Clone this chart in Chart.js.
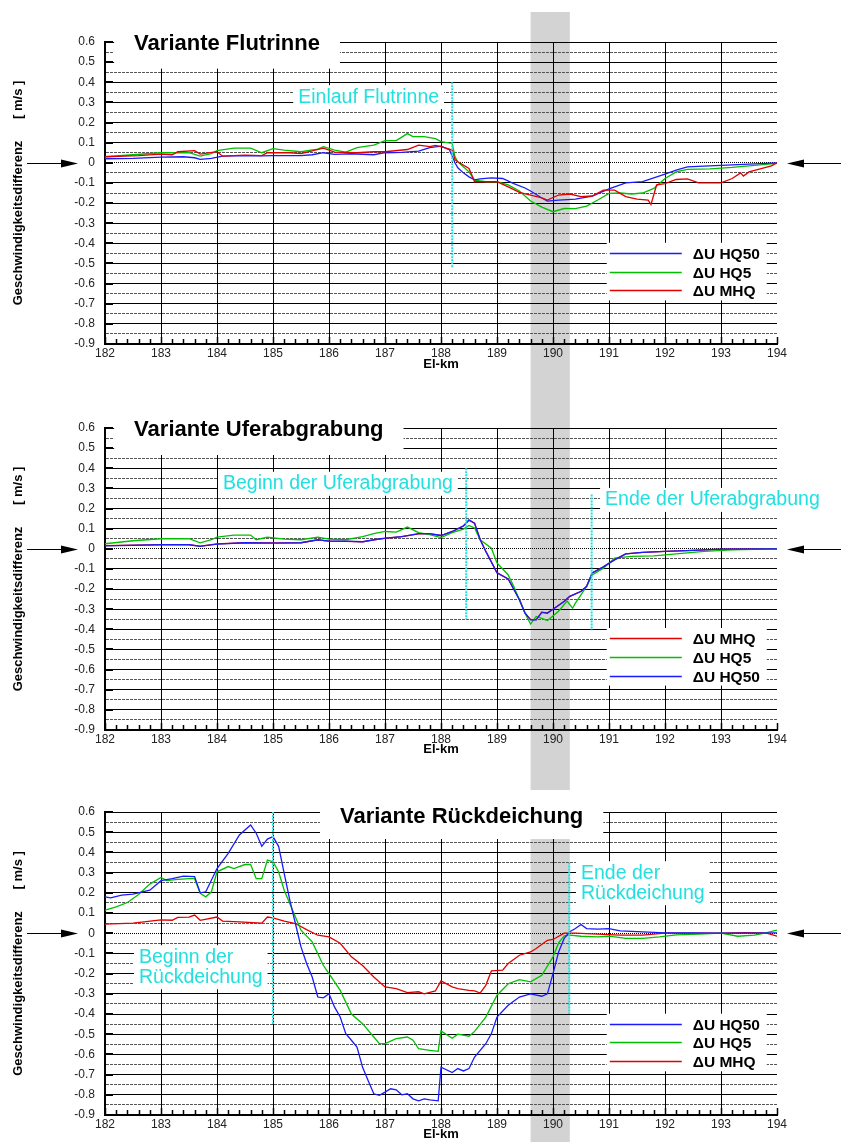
<!DOCTYPE html>
<html>
<head>
<meta charset="utf-8">
<title>Geschwindigkeitsdifferenz Varianten</title>
<script src="https://cdn.jsdelivr.net/npm/chart.js@4/dist/chart.umd.min.js"></script>
<style>
  html, body { margin: 0; padding: 0; background: #fff; }
  #page { position: relative; width: 841px; height: 1142px; overflow: hidden; }
  #page canvas { position: absolute; left: 0; }
</style>
</head>
<body>
<div id="page">
  <canvas id="chart-flut" width="841" height="380" style="top:0"></canvas>
  <canvas id="chart-ufer" width="841" height="380" style="top:380px"></canvas>
  <canvas id="chart-rueck" width="841" height="382" style="top:760px"></canvas>
</div>
<script>
// Data: [El-km, dU in m/s]

// Variante Flutrinne
const flutHQ50 = [[182.0,0.02],[182.5,0.022],[183.0,0.028],[183.4,0.03],[183.6,0.025],[183.7,0.017],[183.9,0.022],[184.1,0.033],[184.5,0.036],[184.8,0.034],[185.0,0.036],[185.5,0.036],[185.7,0.04],[185.9,0.05],[186.1,0.042],[186.4,0.045],[186.8,0.04],[187.0,0.05],[187.3,0.052],[187.6,0.058],[187.8,0.075],[188.0,0.083],[188.15,0.065],[188.25,0.0],[188.3,-0.025],[188.4,-0.05],[188.5,-0.07],[188.6,-0.085],[188.7,-0.08],[188.9,-0.075],[189.1,-0.078],[189.3,-0.103],[189.5,-0.125],[189.6,-0.14],[189.8,-0.175],[189.9,-0.19],[190.1,-0.185],[190.4,-0.18],[190.7,-0.165],[191.0,-0.13],[191.3,-0.1],[191.6,-0.093],[191.8,-0.075],[192.0,-0.056],[192.2,-0.036],[192.4,-0.02],[192.8,-0.015],[193.2,-0.01],[193.6,-0.005],[194.0,0.0]];
const flutHQ5 = [[182.0,0.03],[182.5,0.04],[183.0,0.05],[183.5,0.05],[183.7,0.033],[183.9,0.046],[184.0,0.06],[184.3,0.073],[184.6,0.073],[184.8,0.05],[185.0,0.07],[185.2,0.063],[185.5,0.055],[185.8,0.068],[185.9,0.08],[186.1,0.063],[186.3,0.053],[186.5,0.075],[186.8,0.088],[187.0,0.11],[187.2,0.11],[187.4,0.145],[187.5,0.13],[187.7,0.13],[187.9,0.12],[188.0,0.105],[188.2,0.096],[188.25,0.03],[188.3,0.005],[188.5,-0.045],[188.6,-0.086],[188.8,-0.094],[189.0,-0.094],[189.2,-0.11],[189.4,-0.14],[189.6,-0.19],[189.8,-0.22],[190.0,-0.243],[190.2,-0.227],[190.4,-0.228],[190.6,-0.215],[190.8,-0.185],[191.0,-0.152],[191.2,-0.15],[191.4,-0.155],[191.6,-0.15],[191.8,-0.127],[192.0,-0.078],[192.2,-0.045],[192.4,-0.033],[192.8,-0.03],[193.2,-0.023],[193.6,-0.013],[194.0,-0.003]];
const flutMHQ = [[182.0,0.03],[182.6,0.036],[183.0,0.043],[183.2,0.04],[183.3,0.055],[183.6,0.06],[183.7,0.043],[184.0,0.055],[184.1,0.033],[184.5,0.038],[184.8,0.036],[184.9,0.05],[185.3,0.05],[185.5,0.046],[185.9,0.073],[186.1,0.053],[186.5,0.05],[186.8,0.055],[187.0,0.055],[187.4,0.066],[187.6,0.088],[187.8,0.08],[187.9,0.086],[188.0,0.08],[188.2,0.063],[188.25,0.015],[188.3,0.005],[188.5,-0.028],[188.6,-0.094],[189.0,-0.094],[189.2,-0.12],[189.4,-0.147],[189.6,-0.16],[189.8,-0.174],[189.9,-0.185],[190.1,-0.16],[190.3,-0.155],[190.5,-0.168],[190.7,-0.165],[190.9,-0.136],[191.1,-0.136],[191.3,-0.168],[191.5,-0.18],[191.7,-0.185],[191.75,-0.207],[191.85,-0.11],[192.0,-0.103],[192.2,-0.083],[192.4,-0.08],[192.6,-0.1],[193.0,-0.1],[193.2,-0.078],[193.35,-0.05],[193.4,-0.066],[193.5,-0.045],[193.7,-0.03],[193.9,-0.015],[194.0,0.0]];

// Variante Uferabgrabung
const uferHQ50 = [[182.0,0.015],[183.0,0.02],[183.5,0.02],[183.7,0.012],[184.0,0.023],[184.5,0.03],[185.0,0.028],[185.5,0.03],[185.8,0.045],[186.0,0.038],[186.3,0.038],[186.6,0.035],[186.8,0.045],[187.0,0.053],[187.3,0.06],[187.6,0.075],[187.8,0.075],[188.0,0.066],[188.2,0.086],[188.4,0.114],[188.5,0.144],[188.6,0.127],[188.7,0.045],[188.8,-0.013],[189.0,-0.12],[189.2,-0.15],[189.4,-0.253],[189.5,-0.32],[189.6,-0.353],[189.7,-0.353],[189.8,-0.316],[189.9,-0.32],[190.0,-0.3],[190.2,-0.262],[190.3,-0.236],[190.5,-0.212],[190.6,-0.187],[190.7,-0.12],[190.9,-0.09],[191.1,-0.055],[191.3,-0.025],[191.6,-0.018],[192.0,-0.013],[192.5,-0.008],[193.0,-0.002],[194.0,0.0]];
const uferHQ5 = [[182.0,0.025],[182.5,0.04],[183.0,0.05],[183.5,0.05],[183.7,0.03],[183.9,0.045],[184.0,0.058],[184.3,0.068],[184.6,0.068],[184.7,0.045],[184.9,0.058],[185.2,0.048],[185.5,0.045],[185.8,0.058],[186.0,0.048],[186.3,0.045],[186.6,0.061],[186.8,0.075],[187.0,0.086],[187.2,0.083],[187.4,0.108],[187.6,0.08],[187.8,0.07],[188.0,0.056],[188.2,0.08],[188.4,0.098],[188.5,0.116],[188.6,0.103],[188.7,0.045],[188.9,0.003],[189.0,-0.07],[189.2,-0.13],[189.3,-0.187],[189.5,-0.32],[189.6,-0.374],[189.7,-0.336],[189.9,-0.356],[190.1,-0.31],[190.25,-0.26],[190.35,-0.295],[190.4,-0.27],[190.6,-0.187],[190.7,-0.13],[190.9,-0.096],[191.1,-0.046],[191.4,-0.038],[191.8,-0.035],[192.2,-0.025],[192.7,-0.013],[193.2,-0.005],[194.0,0.0]];
const uferMHQ = [[182.0,0.016],[183.0,0.021],[183.5,0.021],[183.7,0.013],[184.0,0.024],[184.5,0.03],[185.0,0.029],[185.5,0.03],[185.8,0.044],[186.0,0.038],[186.3,0.037],[186.6,0.034],[186.8,0.044],[187.0,0.052],[187.3,0.06],[187.6,0.074],[187.8,0.074],[188.0,0.066],[188.2,0.085],[188.4,0.113],[188.5,0.142],[188.6,0.126],[188.7,0.046],[188.8,-0.012],[189.0,-0.118],[189.2,-0.15],[189.4,-0.252],[189.5,-0.318],[189.6,-0.352],[189.7,-0.352],[189.8,-0.315],[189.9,-0.318],[190.0,-0.3],[190.2,-0.261],[190.3,-0.236],[190.5,-0.211],[190.6,-0.186],[190.7,-0.12],[190.9,-0.089],[191.1,-0.054],[191.3,-0.025],[191.6,-0.018],[192.0,-0.013],[192.5,-0.008],[193.0,-0.002],[194.0,0.0]];

// Variante Rückdeichung
const rueckHQ50 = [[182.0,0.18],[182.1,0.175],[182.3,0.188],[182.5,0.193],[182.8,0.213],[183.0,0.26],[183.2,0.27],[183.4,0.283],[183.6,0.28],[183.7,0.2],[183.8,0.205],[184.0,0.32],[184.2,0.395],[184.4,0.486],[184.6,0.536],[184.7,0.495],[184.8,0.43],[184.9,0.466],[185.0,0.478],[185.1,0.43],[185.2,0.296],[185.3,0.164],[185.4,0.048],[185.5,-0.068],[185.6,-0.15],[185.7,-0.217],[185.8,-0.316],[185.9,-0.32],[186.0,-0.3],[186.1,-0.366],[186.2,-0.415],[186.3,-0.497],[186.4,-0.53],[186.5,-0.564],[186.6,-0.664],[186.7,-0.73],[186.8,-0.795],[186.9,-0.803],[187.0,-0.787],[187.1,-0.77],[187.2,-0.775],[187.3,-0.8],[187.4,-0.795],[187.5,-0.82],[187.6,-0.83],[187.7,-0.82],[187.8,-0.825],[187.95,-0.83],[188.0,-0.663],[188.2,-0.69],[188.3,-0.67],[188.4,-0.682],[188.5,-0.67],[188.6,-0.613],[188.8,-0.547],[188.9,-0.497],[189.0,-0.415],[189.2,-0.357],[189.4,-0.316],[189.6,-0.3],[189.8,-0.312],[189.9,-0.3],[190.0,-0.2],[190.1,-0.093],[190.2,-0.026],[190.3,0.007],[190.4,0.023],[190.5,0.043],[190.6,0.023],[190.8,0.02],[191.0,0.023],[191.2,0.012],[191.5,0.008],[192.0,0.002],[192.5,0.002],[193.0,0.0],[193.5,0.0],[194.0,0.002]];
const rueckHQ5 = [[182.0,0.114],[182.2,0.13],[182.4,0.152],[182.6,0.192],[182.8,0.243],[183.0,0.276],[183.1,0.26],[183.3,0.266],[183.5,0.27],[183.6,0.27],[183.7,0.197],[183.8,0.18],[183.9,0.205],[184.0,0.304],[184.2,0.33],[184.3,0.32],[184.5,0.34],[184.6,0.34],[184.7,0.27],[184.8,0.27],[184.9,0.362],[185.0,0.354],[185.1,0.304],[185.2,0.213],[185.35,0.114],[185.5,0.015],[185.7,-0.043],[185.9,-0.16],[186.0,-0.2],[186.2,-0.283],[186.4,-0.4],[186.6,-0.448],[186.8,-0.514],[186.9,-0.547],[187.0,-0.547],[187.2,-0.522],[187.4,-0.514],[187.5,-0.53],[187.6,-0.572],[187.8,-0.58],[187.95,-0.585],[188.0,-0.484],[188.2,-0.52],[188.3,-0.5],[188.5,-0.51],[188.6,-0.486],[188.8,-0.415],[189.0,-0.307],[189.2,-0.25],[189.4,-0.23],[189.6,-0.241],[189.8,-0.208],[190.0,-0.117],[190.1,-0.048],[190.2,-0.013],[190.3,-0.01],[190.5,-0.015],[190.8,-0.018],[191.0,-0.015],[191.3,-0.026],[191.6,-0.026],[191.9,-0.018],[192.2,-0.008],[192.6,-0.005],[193.0,0.0],[193.3,-0.015],[193.6,-0.01],[193.8,0.002],[194.0,0.015]];
const rueckMHQ = [[182.0,0.045],[182.5,0.05],[183.0,0.066],[183.2,0.064],[183.3,0.078],[183.5,0.08],[183.6,0.09],[183.7,0.064],[184.0,0.08],[184.1,0.06],[184.4,0.056],[184.8,0.05],[184.9,0.08],[185.0,0.076],[185.2,0.06],[185.4,0.048],[185.6,0.018],[185.8,-0.01],[186.0,-0.018],[186.2,-0.05],[186.4,-0.117],[186.6,-0.16],[186.8,-0.217],[187.0,-0.266],[187.2,-0.274],[187.4,-0.294],[187.6,-0.29],[187.7,-0.3],[187.9,-0.286],[188.0,-0.236],[188.2,-0.266],[188.3,-0.274],[188.5,-0.283],[188.6,-0.286],[188.7,-0.296],[188.8,-0.258],[188.9,-0.187],[189.1,-0.183],[189.2,-0.15],[189.4,-0.109],[189.6,-0.093],[189.7,-0.076],[189.9,-0.035],[190.0,-0.031],[190.2,0.0],[190.4,0.0],[190.8,-0.005],[191.2,-0.01],[191.6,-0.01],[192.0,0.0],[192.5,0.0],[193.0,0.0],[193.4,0.003],[193.8,0.002],[194.0,-0.015]];

// axes
const kmTicks = [182, 183, 184, 185, 186, 187, 188, 189, 190, 191, 192, 193, 194];
const yTicks = Array.from({length: 31}, (_, i) => Math.round((-0.9 + i * 0.05) * 100) / 100);
const bandKm = [189.6, 190.3];   // grey band (km 189.6 - 190.3)

const seriesLabels = { HQ50: '\u0394U HQ50', HQ5: '\u0394U HQ5', MHQ: '\u0394U MHQ' };
const seriesColors = { HQ50: '#1a1aff', HQ5: '#00c000', MHQ: '#e00000' };
const markColor = '#20e0e0';
const FONT = "'Liberation Sans', Arial, Helvetica, sans-serif";
Chart.defaults.font.family = FONT;

function isTenth(v) {
  return Math.abs(Math.round(v * 100)) % 10 === 0;
}

function makePanel(p) {
  const datasets = [];
  // cyan marker lines first so they are drawn on top
  p.marks.forEach(m => datasets.push({
    label: 'marker',
    data: [{x: m.km, y: m.top}, {x: m.km, y: m.bottom}],
    borderColor: markColor,
    borderWidth: 2,
    borderDash: [2, 1],
    pointRadius: 0
  }));
  p.series.forEach(s => datasets.push({
    label: seriesLabels[s.key],
    data: s.data.map(([x, y]) => ({x, y})),
    borderColor: seriesColors[s.key],
    borderWidth: 1.3,
    pointRadius: 0,
    tension: 0,
    fill: false
  }));

  const decor = {
    id: 'decor',
    beforeDraw(chart) {
      const {ctx, scales: {x}} = chart;
      const x0 = x.getPixelForValue(bandKm[0]);
      const x1 = x.getPixelForValue(bandKm[1]);
      ctx.save();
      ctx.fillStyle = '#d3d3d3';
      ctx.fillRect(x0, p.bandTop, x1 - x0, chart.height - p.bandTop);
      ctx.restore();
    },
    beforeDatasetsDraw(chart) {
      const {ctx, scales: {x, y}} = chart;
      ctx.save();
      ctx.fillStyle = '#fff';
      // title box
      ctx.font = 'bold 22px ' + FONT;
      const tx = x.getPixelForValue(p.title.km);
      const ty = y.getPixelForValue(p.title.y);
      const tw = ctx.measureText(p.title.text).width;
      ctx.fillRect(tx - 20, ty - p.title.up, tw + 40, p.title.up + p.title.down);
      // annotation boxes
      ctx.font = '19.5px ' + FONT;
      p.labels.forEach(l => {
        const lx = x.getPixelForValue(l.km);
        const ly = y.getPixelForValue(l.y);
        const w = Math.max(...l.lines.map(t => ctx.measureText(t).width));
        ctx.fillRect(lx - 5, ly - 12, w + 10, 24 + (l.lines.length - 1) * 20);
      });
      // legend box
      const gx = x.getPixelForValue(p.legend.km);
      const gy = y.getPixelForValue(p.legend.y);
      ctx.fillRect(gx, gy - 10, 160, 2 * 18.8 + 20);
      ctx.restore();
    },
    afterDatasetsDraw(chart) {
      const {ctx, chartArea: a, scales: {x, y}} = chart;
      ctx.save();
      // minor ticks on x axis (every 0.2 km), pointing up
      ctx.strokeStyle = '#000';
      ctx.lineWidth = 1.5;
      for (let i = 0; i <= 60; i++) {
        const px = Math.round(x.getPixelForValue(182 + i * 0.2)) + 0.5;
        ctx.beginPath();
        ctx.moveTo(px, a.bottom);
        ctx.lineTo(px, a.bottom - (i % 5 === 0 ? 7 : 5));
        ctx.stroke();
      }
      // short inner ticks on y axis at every 0.1
      ctx.lineWidth = 2;
      yTicks.filter(isTenth).forEach(v => {
        const py = Math.round(y.getPixelForValue(v));
        ctx.beginPath();
        ctx.moveTo(a.left, py);
        ctx.lineTo(a.left + 8, py);
        ctx.stroke();
      });
      // arrows at the zero line
      const y0 = Math.round(y.getPixelForValue(0)) + 0.5;
      ctx.lineWidth = 1;
      ctx.fillStyle = '#000';
      ctx.beginPath(); ctx.moveTo(27, y0); ctx.lineTo(63, y0); ctx.stroke();
      ctx.beginPath(); ctx.moveTo(78, y0); ctx.lineTo(61, y0 - 4); ctx.lineTo(61, y0 + 4); ctx.closePath(); ctx.fill();
      ctx.beginPath(); ctx.moveTo(802, y0); ctx.lineTo(841, y0); ctx.stroke();
      ctx.beginPath(); ctx.moveTo(787, y0); ctx.lineTo(804, y0 - 4); ctx.lineTo(804, y0 + 4); ctx.closePath(); ctx.fill();
      // title
      ctx.textBaseline = 'middle';
      ctx.textAlign = 'left';
      ctx.fillStyle = '#000';
      ctx.font = 'bold 22px ' + FONT;
      ctx.fillText(p.title.text, x.getPixelForValue(p.title.km), y.getPixelForValue(p.title.y));
      // annotation texts
      ctx.fillStyle = markColor;
      ctx.font = '19.5px ' + FONT;
      p.labels.forEach(l => {
        const lx = x.getPixelForValue(l.km);
        const ly = y.getPixelForValue(l.y);
        l.lines.forEach((t, i) => ctx.fillText(t, lx, ly + i * 20));
      });
      // legend
      const gx = x.getPixelForValue(p.legend.km);
      const gy = y.getPixelForValue(p.legend.y);
      ctx.font = 'bold 15.5px ' + FONT;
      p.legend.keys.forEach((k, i) => {
        const ry = Math.round(gy + i * 18.8) + 0.5;
        ctx.strokeStyle = seriesColors[k];
        ctx.lineWidth = 1.3;
        ctx.beginPath();
        ctx.moveTo(gx + 3, ry);
        ctx.lineTo(gx + 75, ry);
        ctx.stroke();
        ctx.fillStyle = '#000';
        ctx.fillText(seriesLabels[k], gx + 86, ry + 1);
      });
      ctx.restore();
    }
  };

  return new Chart(document.getElementById(p.id), {
    type: 'line',
    data: { datasets },
    options: {
      responsive: false,
      maintainAspectRatio: false,
      animation: false,
      layout: { padding: { left: 0, right: 64, top: p.top, bottom: 0 } },
      plugins: { legend: { display: false }, tooltip: { enabled: false } },
      scales: {
        x: {
          type: 'linear',
          min: 182,
          max: 194,
          afterFit: s => { s.height = p.xAxisHeight; },
          afterBuildTicks: s => { s.ticks = kmTicks.map(v => ({value: v})); },
          ticks: { font: { size: 12 }, color: '#222', padding: 2, maxRotation: 0, autoSkip: false },
          grid: {
            color: c => (c.tick && c.tick.value < 194) ? '#000' : 'rgba(0,0,0,0)',
            lineWidth: 1,
            drawTicks: false
          },
          border: { color: '#000', width: 2 },
          title: {
            display: true,
            text: 'El-km',
            color: '#000',
            font: { size: 13, weight: 'bold' },
            padding: { top: 0, bottom: p.kmTitlePad }
          }
        },
        y: {
          type: 'linear',
          min: -0.9,
          max: 0.6,
          afterFit: s => { s.width = 105; },
          afterBuildTicks: s => { s.ticks = yTicks.map(v => ({value: v})); },
          ticks: {
            font: { size: 12 },
            color: '#222',
            padding: 10,
            autoSkip: false,
            callback: v => isTenth(v) ? String(Math.round(v * 10) / 10) : ''
          },
          grid: {
            color: c => (!c.tick || isTenth(c.tick.value)) ? '#000' : '#555',
            lineWidth: 1,
            drawTicks: false
          },
          border: {
            color: '#000',
            width: 2,
            dash: c => {
              if (!c.tick) return [];
              if (Math.abs(c.tick.value) < 1e-9) return [1, 1];
              return isTenth(c.tick.value) ? [] : [3, 1];
            }
          },
          title: {
            display: true,
            text: 'Geschwindigkeitsdifferenz      [ m/s ]',
            color: '#000',
            font: { size: 13, weight: 'bold' },
            padding: { top: 11, bottom: 0 }
          }
        }
      }
    },
    plugins: [decor]
  });
}

makePanel({
  id: 'chart-flut', top: 42, xAxisHeight: 36, kmTitlePad: 8, bandTop: 12,
  title: { text: 'Variante Flutrinne', km: 182.52, y: 0.592, up: 18, down: 25 },
  series: [
    { key: 'MHQ', data: flutMHQ },
    { key: 'HQ50', data: flutHQ50 },
    { key: 'HQ5', data: flutHQ5 }
  ],
  marks: [{ km: 188.2, top: 0.4, bottom: -0.52 }],
  labels: [{ lines: ['Einlauf Flutrinne'], km: 185.45, y: 0.326 }],
  legend: { km: 190.96, y: -0.447, keys: ['HQ50', 'HQ5', 'MHQ'] }
});

makePanel({
  id: 'chart-ufer', top: 48, xAxisHeight: 30, kmTitlePad: 3, bandTop: 0,
  title: { text: 'Variante Uferabgrabung', km: 182.52, y: 0.59, up: 18, down: 25 },
  series: [
    { key: 'HQ50', data: uferHQ50 },
    { key: 'HQ5', data: uferHQ5 },
    { key: 'MHQ', data: uferMHQ }
  ],
  marks: [
    { km: 188.45, top: 0.4, bottom: -0.35 },
    { km: 190.69, top: 0.27, bottom: -0.405 }
  ],
  labels: [
    { lines: ['Beginn der Uferabgrabung'], km: 184.107, y: 0.323 },
    { lines: ['Ende der Uferabgrabung'], km: 190.93, y: 0.243 }
  ],
  legend: { km: 190.96, y: -0.443, keys: ['MHQ', 'HQ5', 'HQ50'] }
});

makePanel({
  id: 'chart-rueck', top: 52, xAxisHeight: 27, kmTitlePad: 0, bandTop: 0,
  title: { text: 'Variante R\u00fcckdeichung', km: 186.196, y: 0.575, up: 27, down: 22 },
  series: [
    { key: 'HQ50', data: rueckHQ50 },
    { key: 'HQ5', data: rueckHQ5 },
    { key: 'MHQ', data: rueckMHQ }
  ],
  marks: [
    { km: 185.0, top: 0.6, bottom: -0.45 },
    { km: 190.29, top: 0.35, bottom: -0.4 }
  ],
  labels: [
    { lines: ['Beginn der', 'R\u00fcckdeichung'], km: 182.607, y: -0.119 },
    { lines: ['Ende der', 'R\u00fcckdeichung'], km: 190.5, y: 0.297 }
  ],
  legend: { km: 190.96, y: -0.448, keys: ['HQ50', 'HQ5', 'MHQ'] }
});
</script>
</body>
</html>
